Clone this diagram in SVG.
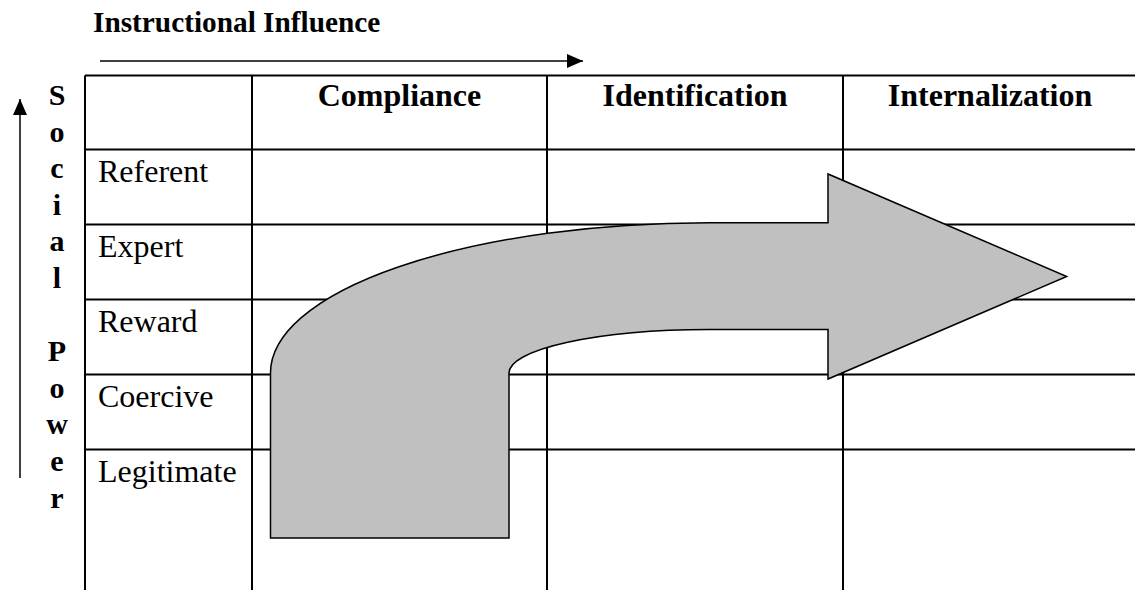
<svg xmlns="http://www.w3.org/2000/svg" width="1135" height="590" viewBox="0 0 1135 590">
<style>
.grid{stroke:#000;stroke-width:2;fill:none}
.hdr{font-family:"Liberation Serif","Times New Roman",serif;font-weight:bold;font-size:32px;fill:#000;text-anchor:middle}
.lbl{font-family:"Liberation Serif","Times New Roman",serif;font-size:32px;fill:#000}
.vt{font-family:"Liberation Serif","Times New Roman",serif;font-weight:bold;font-size:30px;fill:#000;text-anchor:middle}
.ttl{font-family:"Liberation Serif","Times New Roman",serif;font-weight:bold;font-size:29.3px;fill:#000}
.ax{stroke:#000;stroke-width:1.5;fill:none}
</style>
<defs>
<marker id="ah" viewBox="0 0 16 14" refX="16" refY="7" markerWidth="16" markerHeight="14" markerUnits="userSpaceOnUse" orient="auto">
<path d="M0,0 L16,7 L0,14 Z" fill="#000"/>
</marker>
</defs>
<rect width="1135" height="590" fill="#fff"/>
<g id="title">
<text class="ttl" x="93" y="31.5">Instructional Influence</text>
</g>
<g id="connectors">
<line class="ax" x1="100" y1="61" x2="583" y2="61" marker-end="url(#ah)"/>
<line class="ax" x1="20" y1="478" x2="20" y2="99" marker-end="url(#ah)"/>
</g>
<g id="social-power-label">
<text class="vt" x="57" y="105">S</text>
<text class="vt" x="57" y="141.6">o</text>
<text class="vt" x="57" y="178.2">c</text>
<text class="vt" x="57" y="214.8">i</text>
<text class="vt" x="57" y="251.4">a</text>
<text class="vt" x="57" y="288">l</text>
<text class="vt" x="57" y="361.2">P</text>
<text class="vt" x="57" y="397.8">o</text>
<text class="vt" x="57" y="434.4">w</text>
<text class="vt" x="57" y="471">e</text>
<text class="vt" x="57" y="507.6">r</text>
</g>
<g id="table">
<path class="grid" d="M85,75.5 H1140 M85,149.5 H1140 M85,224.5 H1140 M85,299.5 H1140 M85,374.5 H1140 M85,449.5 H1140 M85,75.5 V592 M252,75.5 V592 M547,75.5 V592 M843,75.5 V592"/>
</g>
<g id="headers">
<text class="hdr" x="399.5" y="105.5">Compliance</text>
<text class="hdr" x="695" y="105.5">Identification</text>
<text class="hdr" x="990" y="105.5">Internalization</text>
</g>
<g id="rows">
<text class="lbl" x="98" y="181.5">Referent</text>
<text class="lbl" x="98" y="256.5">Expert</text>
<text class="lbl" x="98" y="331.5">Reward</text>
<text class="lbl" x="98" y="406.5">Coercive</text>
<text class="lbl" x="98" y="481.5">Legitimate</text>
</g>
<g id="bent-arrow">
<path d="M270.5,538 L270.5,373 A438.5,150.3 0 0 1 709,222.7 L828,222.7 L828,174 L1066.7,276.5 L828,379 L828,329.5 L709,329.5 A200,43.5 0 0 0 509,373 L509,538 Z" fill="#C0C0C0" stroke="#000" stroke-width="1.5" stroke-linejoin="miter"/>
</g>
</svg>
